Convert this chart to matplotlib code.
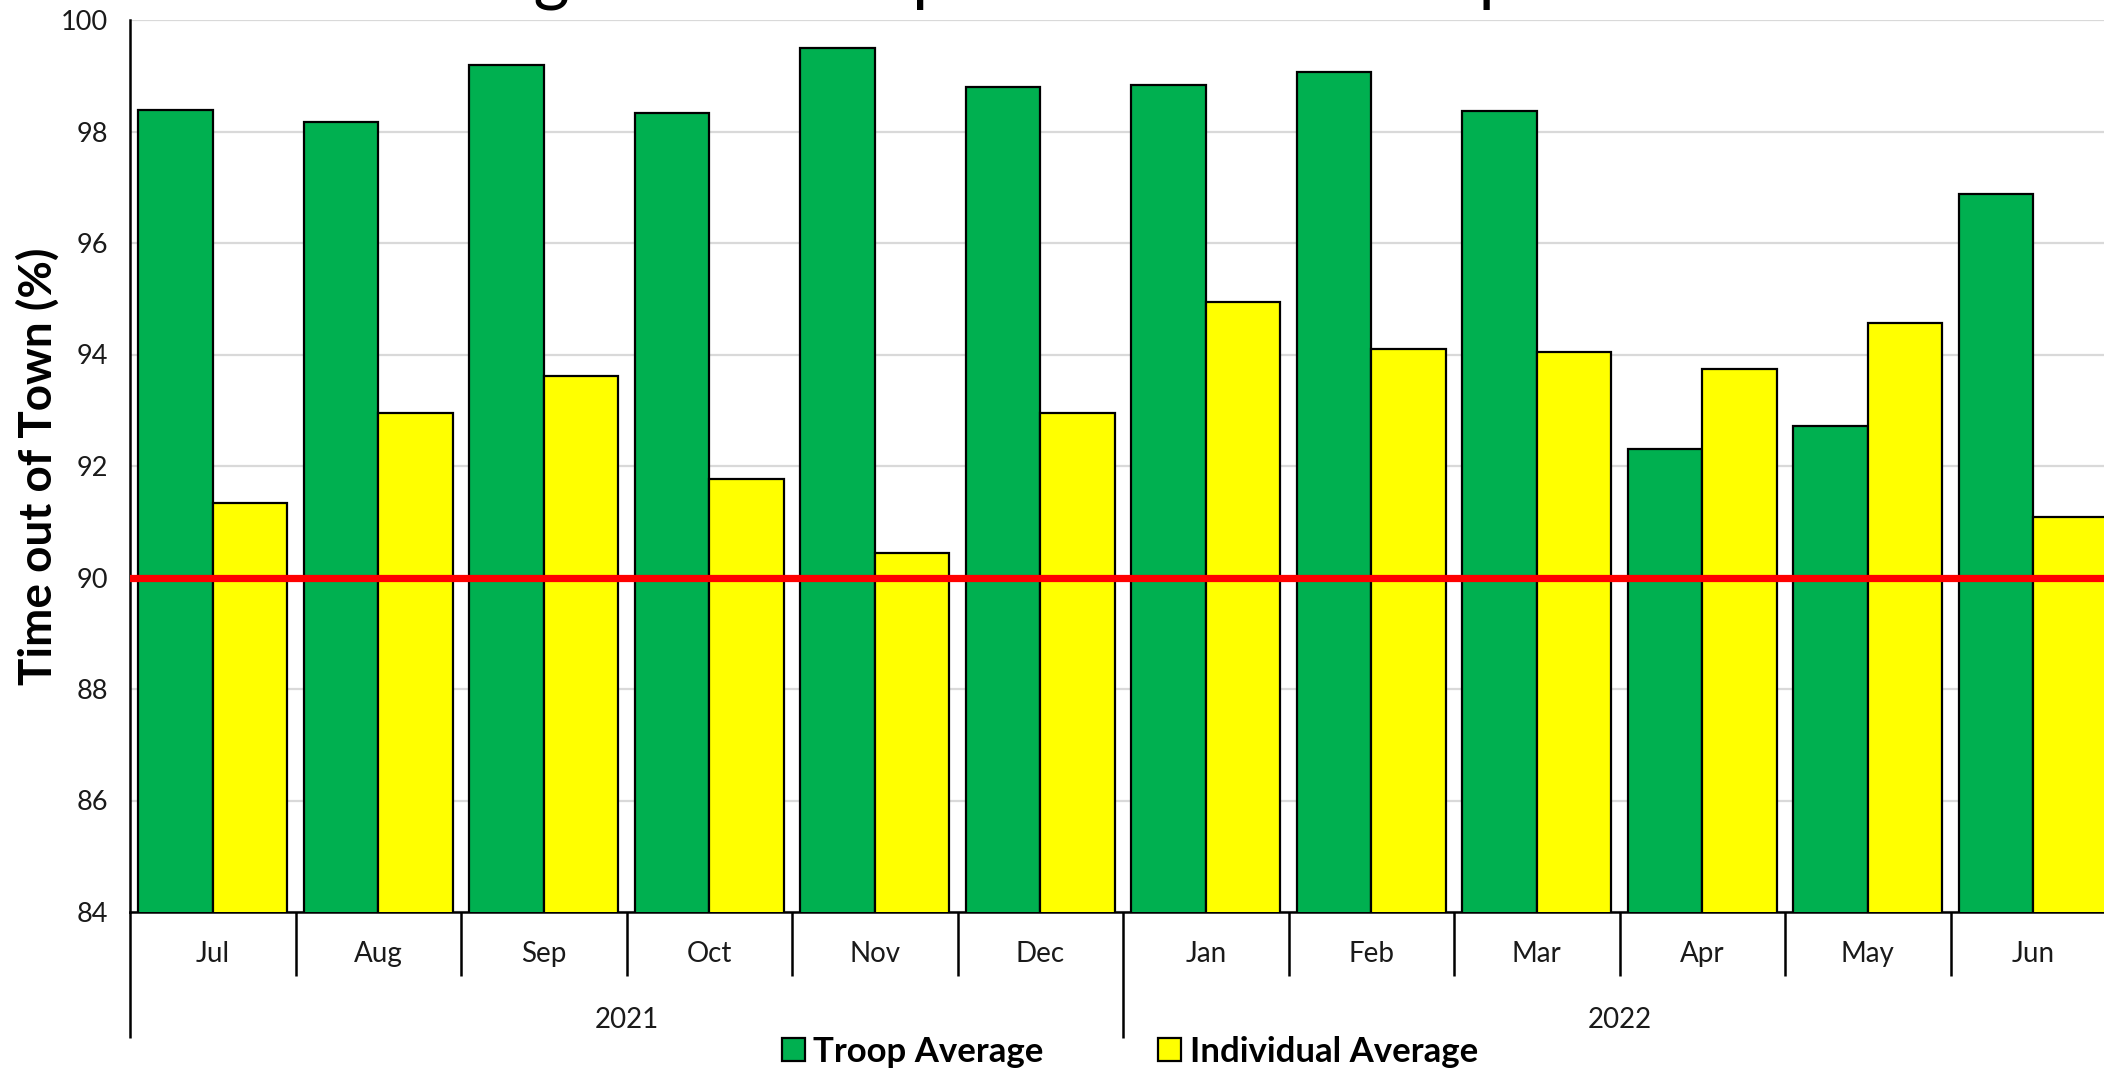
import matplotlib
matplotlib.use("Agg")
import matplotlib.pyplot as plt
import numpy as np
from matplotlib.patches import Patch
from matplotlib.transforms import blended_transform_factory

months = ["Jul", "Aug", "Sep", "Oct", "Nov", "Dec",
          "Jan", "Feb", "Mar", "Apr", "May", "Jun"]
years = ["2021", "2022"]
months_per_year = [6, 6]
troop_avg = [98.39, 98.17, 99.20, 98.34, 99.49, 98.79,
             98.84, 99.06, 98.36, 92.30, 92.71, 96.87]
individual_avg = [91.34, 92.95, 93.62, 91.77, 90.44, 92.95,
                  94.94, 94.10, 94.05, 93.74, 94.56, 91.09]
target = 90
y_ticks = [84, 86, 88, 90, 92, 94, 96, 98, 100]
title = "Percentage of Time Spent Out of Town per Month"

FONT = "Lato"
plt.rcParams["font.family"] = [FONT, "DejaVu Sans"]

W, H = 2104, 1071
fig = plt.figure(figsize=(W / 100, H / 100), dpi=100)
ax = fig.add_axes([130 / W, 1 - 912 / H, 1986 / W, 892 / H])

x = np.arange(len(months))
bw = 0.45
green = "#00B050"
yellow = "#FFFF00"
ax.bar(x - bw / 2, troop_avg, width=bw, color=green, edgecolor="black",
       linewidth=1.6, zorder=3, label="Troop Average")
ax.bar(x + bw / 2, individual_avg, width=bw, color=yellow, edgecolor="black",
       linewidth=1.6, zorder=3, label="Individual Average")
ax.axhline(target, color="#FF0000", linewidth=5.2, zorder=4)

ax.set_ylim(84, 100)
ax.set_xlim(-0.5, len(months) - 0.5)
ax.set_yticks(y_ticks)
ax.set_yticklabels([str(t) for t in y_ticks], fontsize=19.5, color="#1a1a1a")
ax.tick_params(axis="y", length=0, pad=16)
ax.set_xticks([])
ax.grid(axis="y", color="#d9d9d9", linewidth=1.6, zorder=0)
ax.set_axisbelow(True)

for side in ["top", "right"]:
    ax.spines[side].set_visible(False)
ax.spines["left"].set_linewidth(1.8)
ax.spines["bottom"].set_linewidth(1.8)

ax.set_ylabel("Time out of Town (%)", fontsize=33, fontweight="bold")
ax.yaxis.set_label_coords(-0.0465, 0.5)
ax.yaxis.label.set_va("center")

# Two-level category axis: months, then years, separated by vertical rules
trans = blended_transform_factory(ax.transData, ax.transAxes)
ax_h = 892.0
short = 64 / ax_h
long_ = 126 / ax_h
for i, m in enumerate(months):
    ax.text(i, -42 / ax_h, m, transform=trans, ha="center", va="center",
            fontsize=20, color="#1a1a1a")
boundaries = np.cumsum([0] + months_per_year)
year_edges = set((boundaries - 0.5).tolist())
for b in np.arange(len(months)) - 0.5:
    depth = long_ if b in year_edges else short
    ax.plot([b, b], [0, -depth], transform=trans, color="black",
            linewidth=1.8, clip_on=False, solid_capstyle="butt")
for k, yr in enumerate(years):
    c = (boundaries[k] + boundaries[k + 1] - 1) / 2
    ax.text(c, -108 / ax_h, yr, transform=trans, ha="center", va="center",
            fontsize=20, color="#1a1a1a")

handles = [Patch(facecolor=green, edgecolor="black", linewidth=1.6),
           Patch(facecolor=yellow, edgecolor="black", linewidth=1.6)]
fig.legend(handles, ["Troop Average", "Individual Average"],
           loc="center", bbox_to_anchor=(1130 / W, 1 - 1052 / H), ncol=2,
           frameon=False, prop={"family": FONT, "weight": "bold", "size": 25},
           handlelength=0.65, handleheight=0.65, handletextpad=0.25,
           columnspacing=3.3)

fig.text(262 / W, 1 + 3 / H, title, ha="left", va="baseline",
         fontsize=50, color="black")

fig.savefig("out.png", dpi=100)
